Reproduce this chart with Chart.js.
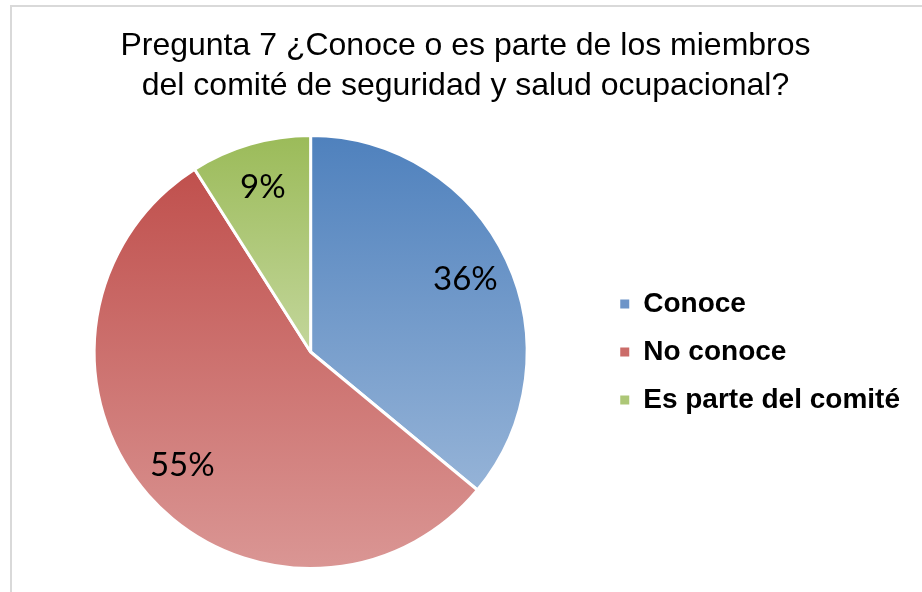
<!DOCTYPE html>
<html>
<head>
<meta charset="utf-8">
<script src="https://cdn.jsdelivr.net/npm/chart.js@4"></script>
<style>
  html, body { margin: 0; padding: 0; background: #fff; }
  #wrap { width: 922px; height: 592px; position: relative; }
</style>
</head>
<body>
<div id="wrap"><canvas id="chart"></canvas></div>
<script>
// DATA
const titleLines = ["Pregunta 7 ¿Conoce o es parte de los miembros", "del comité de seguridad y salud ocupacional?"];
const categories = ["Conoce", "No conoce", "Es parte del comité"];
const values = [36, 55, 9];

// COLOURS (top / bottom of each slice gradient)
const topColors = ["#4F81BD", "#C0504D", "#9BBB59"];
const bottomColors = ["#95B3D7", "#DA9694", "#C3D69B"];
const midColors = ["#6D94C8", "#CB6C69", "#ADC777"];

const total = values.reduce((a, b) => a + b, 0);

// vertical extent of a slice
function arcExtent(arc) {
  const ys = [arc.y, arc.y + arc.outerRadius * Math.sin(arc.startAngle), arc.y + arc.outerRadius * Math.sin(arc.endAngle)];
  [-Math.PI / 2, Math.PI / 2].forEach(t => {
    for (let k = -2; k <= 2; k++) {
      const a = t + k * 2 * Math.PI;
      if (a >= arc.startAngle && a <= arc.endAngle) ys.push(arc.y + arc.outerRadius * Math.sin(a));
    }
  });
  return [Math.min(...ys), Math.max(...ys)];
}

// FRAME
const framePlugin = {
  id: "frame",
  beforeDraw(chart) {
    const ctx = chart.ctx;
    ctx.save();
    ctx.fillStyle = "#fff";
    ctx.fillRect(0, 0, chart.width, chart.height);
    ctx.strokeStyle = "#d9d9d9";
    ctx.lineWidth = 2;
    ctx.strokeRect(11, 6, 940, 600);
    ctx.restore();
  }
};

// GRADIENT FILLS
const gradientPlugin = {
  id: "sliceGradient",
  beforeDatasetsDraw(chart) {
    const ctx = chart.ctx;
    chart.getDatasetMeta(0).data.forEach((arc, i) => {
      const [y0, y1] = arcExtent(arc);
      const g = ctx.createLinearGradient(0, y0, 0, y1);
      g.addColorStop(0, topColors[i]);
      g.addColorStop(1, bottomColors[i]);
      arc.options.backgroundColor = g;
    });
  }
};

// PERCENT LABELS
const labelPlugin = {
  id: "pctLabels",
  afterDatasetsDraw(chart) {
    const ctx = chart.ctx;
    ctx.save();
    ctx.font = "33px Lato, 'Open Sans', sans-serif";
    ctx.fillStyle = "#000";
    ctx.textAlign = "center";
    ctx.textBaseline = "middle";
    chart.getDatasetMeta(0).data.forEach((arc, i) => {
      const mid = (arc.startAngle + arc.endAngle) / 2;
      const r = arc.outerRadius * 0.79;
      const txt = Math.round(values[i] / total * 100) + "%";
      ctx.fillText(txt, arc.x + r * Math.cos(mid), arc.y + r * Math.sin(mid));
    });
    ctx.restore();
  }
};

new Chart(document.getElementById("chart"), {
  type: "pie",
  data: {
    labels: categories,
    datasets: [{
      data: values,
      backgroundColor: midColors,
      borderColor: "#fff",
      borderWidth: 3
    }]
  },
  options: {
    responsive: true,
    maintainAspectRatio: false,
    animation: false,
    layout: { padding: { left: 21, right: 12, top: 0, bottom: 22 } },
    plugins: {
      title: {
        display: true,
        text: titleLines,
        color: "#000",
        font: { family: "Arial, 'Liberation Sans', sans-serif", size: 32, weight: "normal", lineHeight: 1.25 },
        padding: { top: 26, bottom: 28 }
      },
      legend: {
        position: "right",
        fullSize: false,
        labels: {
          color: "#000",
          boxWidth: 9,
          boxHeight: 9,
          padding: 20,
          font: { family: "Arial, 'Liberation Sans', sans-serif", size: 28, weight: "bold" },
          generateLabels(chart) {
            // solid squares, no white outline
            return Chart.overrides.pie.plugins.legend.labels.generateLabels(chart).map(item => {
              item.lineWidth = 0;
              item.strokeStyle = "rgba(0,0,0,0)";
              return item;
            });
          }
        }
      },
      tooltip: { enabled: false }
    }
  },
  plugins: [framePlugin, gradientPlugin, labelPlugin]
});
</script>
</body>
</html>
